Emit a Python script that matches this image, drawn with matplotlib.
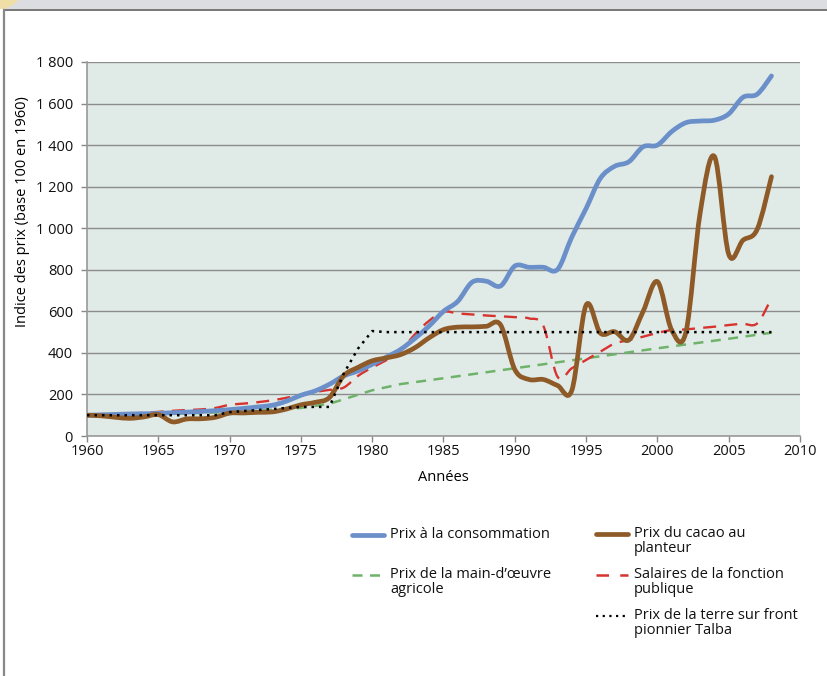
import numpy as np
import matplotlib
matplotlib.use("Agg")
import matplotlib.pyplot as plt
from matplotlib.path import Path
from matplotlib.patches import PathPatch, Rectangle, Circle
from matplotlib.lines import Line2D

plt.rcParams["font.family"] = ["Open Sans", "DejaVu Sans"]

# --- data (index, base 100 in 1960) ---
years = list(range(1960, 2009))

conso = [100, 102, 104, 106, 107, 109, 112, 115, 118, 122,
         127, 133, 140, 148, 168, 196, 217, 249, 289, 313,
         345, 380, 417, 470, 530, 600, 648, 740, 745, 722,
         818, 812, 812, 802, 958, 1095, 1240, 1298, 1320, 1392,
         1400, 1465, 1508, 1516, 1520, 1550, 1630, 1645, 1733]

cacao = [100, 97, 90, 85, 92, 103, 68, 82, 83, 90,
         110, 111, 114, 116, 130, 150, 162, 185, 290, 330,
         362, 376, 392, 425, 473, 512, 524, 525, 528, 535,
         320, 272, 272, 243, 220, 630, 495, 502, 462, 600,
         743, 510, 500, 1075, 1345, 875, 942, 995, 1248]

salaires = [100, 101, 104, 107, 112, 116, 121, 125, 128, 135,
            150, 156, 163, 172, 184, 198, 212, 222, 233, 289,
            330, 365, 410, 490, 555, 598, 590, 585, 580, 576,
            572, 566, 530, 285, 326, 366, 406, 445, 462, 478,
            496, 510, 513, 520, 526, 534, 540, 542, 663]

mo_years = [1960, 1965, 1970, 1975, 1977, 1980, 1982, 1985, 1990, 1995, 2000, 2005, 2008]
main_oeuvre = [100, 105, 115, 135, 155, 220, 250, 278, 326, 374, 422, 468, 497]

terre_years = [1960, 1965, 1969, 1970, 1975, 1977, 1978, 1979, 1980, 1981, 2008]
terre = [100, 100, 100, 115, 140, 140, 300, 420, 505, 500, 500]

yticks = [0, 200, 400, 600, 800, 1000, 1200, 1400, 1600, 1800]
ytick_labels = ["0", "200", "400", "600", "800", "1 000", "1 200", "1 400", "1 600", "1 800"]
xticks = [1960, 1965, 1970, 1975, 1980, 1985, 1990, 1995, 2000, 2005, 2010]

C_BLUE = "#6b8fc9"
C_BROWN = "#8e5a28"
C_GREEN = "#6fb26a"
C_RED = "#d7332f"


def smooth_path(x, y):
    """Excel-like smoothed line: Catmull-Rom through the points as Bezier."""
    p = np.column_stack([x, y]).astype(float)
    verts = [p[0]]
    codes = [Path.MOVETO]
    n = len(p)
    for i in range(n - 1):
        p0 = p[i - 1] if i > 0 else p[i]
        p1, p2 = p[i], p[i + 1]
        p3 = p[i + 2] if i + 2 < n else p[i + 1]
        verts += [p1 + (p2 - p0) / 6, p2 - (p3 - p1) / 6, p2]
        codes += [Path.CURVE4] * 3
    return Path(verts, codes)


fig = plt.figure(figsize=(8.28, 6.76), dpi=100)

# page frame: grey band on top, thin border
band = Rectangle((0, 1 - 9 / 676), 1, 9 / 676, transform=fig.transFigure,
                 facecolor="#dcdde0", edgecolor="none", zorder=0)
fig.patches.append(band)
corner = Circle((-6 / 828, 1 + 14 / 676), 0.036, transform=fig.transFigure,
                facecolor="#efdfa6", edgecolor="none", zorder=1)
corner.set_clip_path(band)
fig.patches.append(corner)
fig.lines.append(Line2D([4 / 828, 1], [1 - 9.5 / 676] * 2, transform=fig.transFigure,
                        color="#777777", lw=1.4))
fig.lines.append(Line2D([4 / 828] * 2, [0, 1 - 9.5 / 676], transform=fig.transFigure,
                        color="#888888", lw=1.6))

ax = fig.add_axes([87 / 828, 1 - 436 / 676, 713 / 828, 374 / 676])
ax.set_facecolor("#e0ebe8")
ax.set_xlim(1960, 2010)
ax.set_ylim(0, 1800)

ax.set_yticks(yticks)
ax.set_yticklabels(ytick_labels)
ax.set_xticks(xticks)
ax.tick_params(axis="both", labelsize=10.5, color="#888888", length=4, width=1,
               labelcolor="#111111")
ax.tick_params(axis="y", pad=6)
ax.tick_params(axis="x", pad=2)
ax.grid(axis="y", color="#8c8c8c", lw=1)
ax.set_axisbelow(True)
for s in ["top", "right"]:
    ax.spines[s].set_visible(False)
for s in ["left", "bottom"]:
    ax.spines[s].set_color("#999999")
    ax.spines[s].set_linewidth(1.2)

ax.plot(mo_years, main_oeuvre, color=C_GREEN, lw=1.8, dashes=(4, 3), zorder=3)
ax.add_patch(PathPatch(smooth_path(years, salaires), facecolor="none", edgecolor=C_RED,
                       lw=1.7, linestyle=(0, (5.5, 3.5)), zorder=4))
ax.add_patch(PathPatch(smooth_path(years, conso), facecolor="none", edgecolor=C_BLUE,
                       lw=3.4, capstyle="round", joinstyle="round", zorder=5))
ax.add_patch(PathPatch(smooth_path(years, cacao), facecolor="none", edgecolor=C_BROWN,
                       lw=3.4, capstyle="round", joinstyle="round", zorder=6))
ax.plot(terre_years, terre, color="black", lw=1.8, linestyle=(0, (1, 2)), zorder=7)

ax.set_xlabel("Années", fontsize=10.5, labelpad=8)
ax.set_ylabel("Indice des prix (base 100 en 1960)", fontsize=10.5)
ax.yaxis.set_label_coords(-0.080, 0.6)

# legend drawn by hand (handles aligned with first line of text, Excel style)
W, H = 828, 676
legend_items = [
    (352, 535, "Prix à la consommation", dict(color=C_BLUE, lw=3.4, solid_capstyle="round")),
    (596, 534, "Prix du cacao au\nplanteur", dict(color=C_BROWN, lw=3.4, solid_capstyle="round")),
    (352, 575, "Prix de la main-d\u2019œuvre\nagricole", dict(color=C_GREEN, lw=1.8, dashes=(4, 3))),
    (596, 575, "Salaires de la fonction\npublique", dict(color=C_RED, lw=1.8, dashes=(5, 4.5))),
    (596, 616, "Prix de la terre sur front\npionnier Talba", dict(color="black", lw=1.6, linestyle=(0, (1, 2)))),
]
for x0, y0, label, style in legend_items:
    fig.lines.append(Line2D([x0 / W, (x0 + 32) / W], [1 - y0 / H] * 2,
                            transform=fig.transFigure, **style))
    fig.text((x0 + 38) / W, 1 - (y0 - 8) / H, label, fontsize=10.5, va="top", ha="left",
             color="#111111", linespacing=1.0)

fig.savefig("out.png", dpi=100)
